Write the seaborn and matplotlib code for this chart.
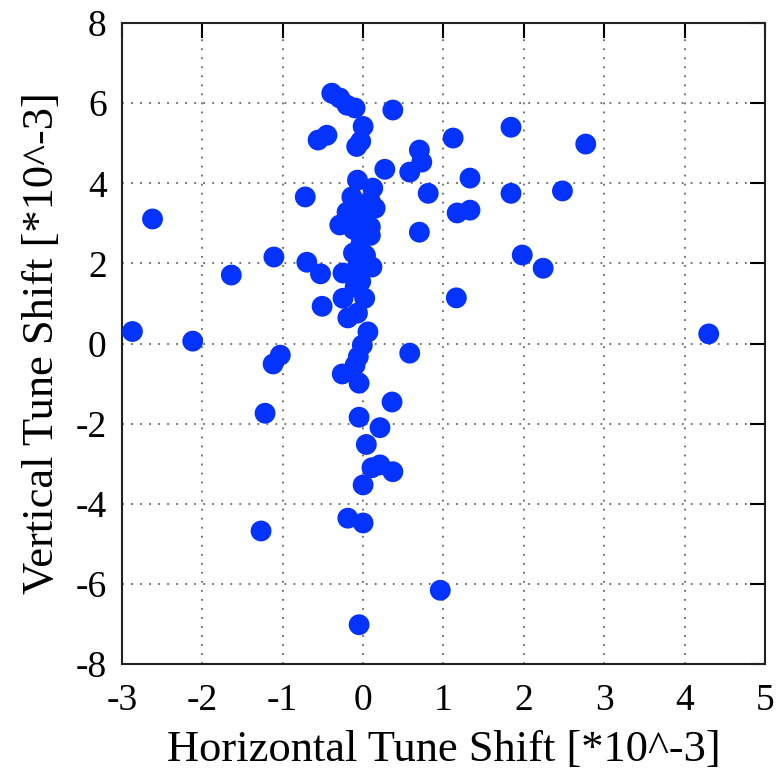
import matplotlib
matplotlib.use("Agg")
import matplotlib.pyplot as plt
import seaborn as sns
import pandas as pd

h_shift = [
    -2.87, -2.62, -2.12, -1.64, -1.11, -1.03, -1.12, -1.22, -1.27, -0.72, -0.70,
    0.96, -0.05, 4.30, 2.77, 2.48, 1.84, 1.84, 1.98, 2.24,
    0.37, 1.12, 0.70, 0.73, 0.58, 0.27, 1.33, 0.81, 1.17, 1.33, 0.70, 1.16, 0.58,
    -0.39, -0.29, -0.20, -0.10, 0.00, -0.03, -0.08, -0.45, -0.56,
    -0.07, 0.12, -0.14, 0.09, -0.03, 0.15, -0.20, -0.05, -0.07, -0.29, 0.09, -0.12,
    0.09, -0.02, -0.04, -0.12, 0.03, -0.06, 0.11, -0.10, -0.25, -0.53, -0.10, -0.03,
    -0.25, 0.02, -0.51, -0.07, -0.19, 0.06, -0.01, -0.06, -0.10, -0.26, -0.05,
    0.36, -0.05, 0.21, 0.04, 0.11, 0.21, 0.37, 0.00, -0.19, 0.00,
]
v_shift = [
    0.30, 3.11, 0.06, 1.71, 2.16, -0.29, -0.51, -1.74, -4.68, 3.66, 2.03,
    -6.16, -7.02, 0.24, 4.98, 3.81, 5.40, 3.75, 2.21, 1.88,
    5.83, 5.13, 4.83, 4.53, 4.28, 4.35, 4.13, 3.75, 3.26, 3.33, 2.78, 1.14, -0.24,
    6.25, 6.13, 5.95, 5.88, 5.42, 5.05, 4.92, 5.20, 5.08,
    4.08, 3.88, 3.66, 3.55, 3.45, 3.38, 3.28, 3.20, 3.05, 2.96, 2.91, 2.85,
    2.70, 2.60, 2.41, 2.26, 2.20, 2.00, 1.91, 1.78, 1.76, 1.74, 1.41, 1.55,
    1.13, 1.13, 0.93, 0.76, 0.64, 0.29, -0.04, -0.33, -0.54, -0.76, -0.99,
    -1.46, -1.84, -2.10, -2.52, -3.10, -3.03, -3.20, -3.53, -4.36, -4.48,
]
x_ticks = [-3, -2, -1, 0, 1, 2, 3, 4, 5]
y_ticks = [-8, -6, -4, -2, 0, 2, 4, 6, 8]

df = pd.DataFrame({"h": h_shift, "v": v_shift})

sns.set_style("white")
plt.rcParams["font.family"] = ["Liberation Serif", "DejaVu Serif"]
plt.rcParams["text.color"] = "black"
plt.rcParams["axes.labelcolor"] = "black"

fig = plt.figure(figsize=(7.79, 7.70), dpi=100)
ax = fig.add_axes([0.1566, 0.1377, 0.8254, 0.8323])

sns.scatterplot(data=df, x="h", y="v", ax=ax, color="#0432FF", s=225,
                edgecolor="none", linewidth=0, zorder=3)

ax.set_xlim(-3, 5)
ax.set_ylim(-8, 8)
ax.set_xticks(x_ticks)
ax.set_yticks(y_ticks)
ax.set_xticklabels([str(t) for t in x_ticks])
ax.set_yticklabels([str(t) for t in y_ticks])
ax.grid(True, color="#666666", linestyle=(0, (1, 4)), linewidth=1.3, zorder=0)
ax.tick_params(direction="in", length=11, width=1.5, top=True, right=True,
               labelsize=27, colors="black")
ax.tick_params(axis="x", pad=14)
ax.tick_params(axis="y", pad=11)
for sp in ax.spines.values():
    sp.set_color("#222222")
    sp.set_linewidth(1.5)
ax.set_xlabel("Horizontal Tune Shift [*10^-3]", fontsize=32, labelpad=9, color="black")
ax.set_ylabel("Vertical Tune Shift [*10^-3]", fontsize=32, labelpad=10, color="black")

fig.savefig("out.png", dpi=100)
